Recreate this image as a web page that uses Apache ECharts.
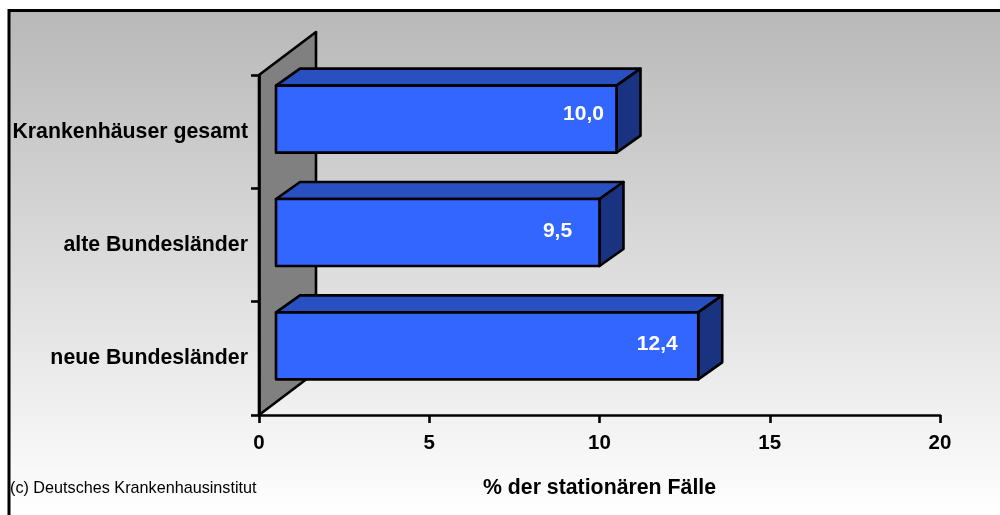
<!DOCTYPE html>
<html>
<head>
<meta charset="utf-8">
<style>
    html, body { margin: 0; padding: 0; background: #fff; }
    #chart { width: 1000px; height: 515px; }
</style>
<script src="https://cdn.jsdelivr.net/npm/echarts@6/dist/echarts.min.js"></script>
</head>
<body>
<div id="chart"></div>
<script>
    var categories = ['Krankenhäuser gesamt', 'alte Bundesländer', 'neue Bundesländer'];
    var values = [10.0, 9.5, 12.4];
    var xTicks = [0, 5, 10, 15, 20];
    var xName = '% der stationären Fälle';
    var credit = '(c) Deutsches Krankenhausinstitut';

    var font = '"Liberation Sans", Arial, sans-serif';
    var depthX = 24, depthY = 17;   // 3D depth of the bars
    var lineStyle = { stroke: '#000', lineWidth: 2.6, lineJoin: 'round' };

    function poly(points, fill) {
        return {
            type: 'polygon',
            shape: { points: points },
            style: Object.assign({ fill: fill }, lineStyle)
        };
    }

    // grey side wall of the 3D plot
    function renderWall(params) {
        var g = params.coordSys;
        var dx = 57, dy = 43;
        return poly([
            [g.x, g.y],
            [g.x + dx, g.y - dy],
            [g.x + dx, g.y + g.height - dy],
            [g.x, g.y + g.height]
        ], '#808080');
    }

    function renderBar(params, api) {
        var c = api.coord([0, api.value(1)]);
        var w = api.size([api.value(0), 0])[0];
        var x0 = c[0] + 17;
        var x1 = x0 + w;
        var y0 = c[1] - 46;
        var y1 = c[1] + 21;
        // value labels sit a little differently inside each bar
        var inset = [33, 42, 41][params.dataIndex];
        var drop = [29, 32, 32][params.dataIndex];
        return {
            type: 'group',
            children: [
                poly([[x0, y0], [x0 + depthX, y0 - depthY], [x1 + depthX, y0 - depthY], [x1, y0]], '#2850c0'),
                poly([[x1, y0], [x1 + depthX, y0 - depthY], [x1 + depthX, y1 - depthY], [x1, y1]], '#1a3380'),
                poly([[x0, y0], [x1, y0], [x1, y1], [x0, y1]], '#3366ff'),
                {
                    type: 'text',
                    style: {
                        x: x1 - inset,
                        y: y0 + drop,
                        text: api.value(0).toFixed(1).replace('.', ','),
                        fill: '#fff',
                        font: 'bold 21px ' + font,
                        align: 'center',
                        verticalAlign: 'middle'
                    }
                }
            ]
        };
    }

    var option = {
        animation: false,
        backgroundColor: '#fff',
        textStyle: { fontFamily: font },
        grid: { left: 259, top: 75, width: 681, height: 340, containLabel: false },
        graphic: [{
            type: 'rect',
            z: -1,
            shape: { x: 9, y: 10.5, width: 1010, height: 520 },
            style: {
                stroke: '#000',
                lineWidth: 3,
                fill: new echarts.graphic.LinearGradient(0, 0, 0, 1, [
                    { offset: 0, color: '#b8b8b8' },
                    { offset: 0.97, color: '#ffffff' }
                ])
            }
        }, {
            type: 'text',
            left: 10,
            top: 481,
            style: { text: credit, fill: '#000', font: '16.2px ' + font }
        }],
        xAxis: {
            type: 'value',
            min: xTicks[0],
            max: xTicks[xTicks.length - 1],
            interval: 5,
            z: 3,
            name: xName,
            nameLocation: 'middle',
            nameGap: 63,
            nameTextStyle: { color: '#000', fontSize: 21.3, fontWeight: 'bold', fontFamily: font },
            axisLine: { show: true, onZero: false, lineStyle: { color: '#000', width: 2.6 } },
            axisTick: { show: true, length: 8, lineStyle: { color: '#000', width: 2.6 } },
            axisLabel: { color: '#000', fontSize: 20.5, fontWeight: 'bold', fontFamily: font, margin: 18 },
            splitLine: { show: false }
        },
        yAxis: {
            type: 'category',
            inverse: true,
            data: categories,
            z: 3,
            axisLine: { show: true, lineStyle: { color: '#000', width: 2.6 } },
            axisTick: { show: true, length: 8, alignWithLabel: false, lineStyle: { color: '#000', width: 2.6 } },
            axisLabel: { color: '#000', fontSize: 21.3, fontWeight: 'bold', fontFamily: font, margin: 11, interval: 0 },
            splitLine: { show: false }
        },
        series: [{
            type: 'custom',
            z: 2,
            silent: true,
            clip: false,
            renderItem: renderWall,
            encode: { x: 0, y: 1 },
            data: [[0, 0]]
        }, {
            type: 'custom',
            z: 4,
            silent: true,
            clip: false,
            renderItem: renderBar,
            encode: { x: 0, y: 1 },
            data: values.map(function (v, i) { return [v, i]; })
        }]
    };

    var chart = echarts.init(document.getElementById('chart'));
    chart.setOption(option);
</script>
</body>
</html>
